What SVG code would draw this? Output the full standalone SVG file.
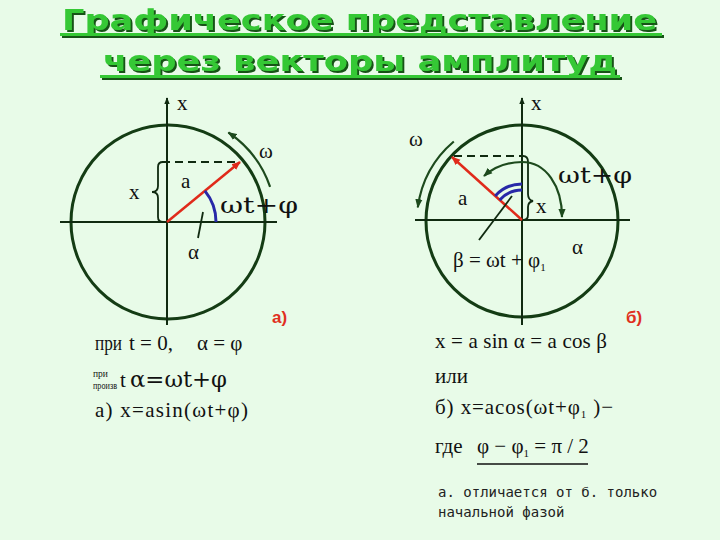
<svg xmlns="http://www.w3.org/2000/svg" width="720" height="540" viewBox="0 0 720 540">
<style>
.title{font-family:"DejaVu Sans",sans-serif;font-weight:bold;font-size:29px;fill:#36c836}
.m{font-family:"Liberation Serif",serif;font-size:21px;fill:#111}
.g{font-family:"DejaVu Serif","Liberation Serif",serif;font-size:22px;fill:#111}
.s{font-family:"Liberation Serif",serif;font-size:11px;fill:#111}
.ss{font-family:"Liberation Serif",serif;font-size:9.5px;fill:#111}
.mono{font-family:"DejaVu Sans Mono",monospace;font-size:14px;fill:#222}
.lbl{font-family:"Liberation Sans",sans-serif;font-weight:bold;font-size:17px;fill:#e0301e}
.circ{fill:none;stroke:#143c14;stroke-width:3}
.axis{stroke:#102a10;stroke-width:2}
.dash{stroke:#102a10;stroke-width:2;stroke-dasharray:8,5}
.thin{fill:none;stroke:#102a10;stroke-width:1.8}
.vec{stroke:#e02a1a;stroke-width:2.5}
.garc{fill:none;stroke:#1d4a1d;stroke-width:2.2}
.blue{fill:none;stroke:#2828a8;stroke-width:3}
</style>
<defs>
<marker id="ax" viewBox="0 0 10 10" refX="9" refY="5" markerWidth="7" markerHeight="7" orient="auto" markerUnits="userSpaceOnUse"><path d="M0,1 L10,5 L0,9 z" fill="#102a10"/></marker>
<marker id="ra" viewBox="0 0 10 10" refX="9" refY="5" markerWidth="9" markerHeight="9" orient="auto" markerUnits="userSpaceOnUse"><path d="M0,1 L10,5 L0,9 z" fill="#e02a1a"/></marker>
<marker id="ga" viewBox="0 0 10 10" refX="9" refY="5" markerWidth="9" markerHeight="9" orient="auto" markerUnits="userSpaceOnUse"><path d="M0,1 L10,5 L0,9 z" fill="#1d4a1d"/></marker>
<marker id="gs" viewBox="0 0 10 10" refX="1" refY="5" markerWidth="9" markerHeight="9" orient="auto" markerUnits="userSpaceOnUse"><path d="M10,1 L0,5 L10,9 z" fill="#1d4a1d"/></marker>
<filter id="sh" x="-5%" y="-20%" width="110%" height="160%"><feDropShadow dx="2" dy="2" stdDeviation="0.4" flood-color="#145214" flood-opacity="1"/></filter>
</defs>
<rect width="720" height="540" fill="#e8fbe8"/>

<g id="title" filter="url(#sh)">
<text class="title" x="62" y="30" textLength="595" lengthAdjust="spacingAndGlyphs">Графическое представление</text>
<rect x="60" y="33" width="602" height="3" fill="#36c836"/>
<text class="title" x="103" y="71" textLength="514" lengthAdjust="spacingAndGlyphs">через векторы амплитуд</text>
<rect x="100" y="75" width="520" height="3" fill="#36c836"/>
</g>

<g id="diagram-a">
<circle class="circ" cx="168" cy="222" r="97"/>
<line class="axis" x1="60" y1="222" x2="277" y2="222"/>
<line class="axis" x1="167" y1="325" x2="167" y2="98" marker-end="url(#ax)"/>
<text class="m" x="177" y="110">x</text>
<line class="dash" x1="162" y1="162" x2="238" y2="162"/>
<path class="thin" d="M163,162 Q158,162 158,167 L158,186 Q158,192 152,192 Q158,192 158,198 L158,217 Q158,222 163,222"/>
<text class="m" x="129" y="199">x</text>
<line class="vec" x1="167" y1="222" x2="240" y2="162" marker-end="url(#ra)"/>
<text class="m" x="181" y="188">a</text>
<path class="blue" d="M204.9,190.9 A49,49 0 0 1 216,222"/>
<line class="thin" x1="198" y1="238" x2="203" y2="212"/>
<text class="m" x="188" y="259">α</text>
<text class="g" x="220" y="213" textLength="78" lengthAdjust="spacingAndGlyphs">ωt+φ</text>
<path class="garc" d="M270.1,186.8 A108,108 0 0 0 228.4,132.5" marker-end="url(#ga)"/>
<text class="m" x="259" y="158">ω</text>
<text class="lbl" x="272" y="323">а)</text>
</g>

<g id="diagram-b">
<circle class="circ" cx="522" cy="221" r="96"/>
<line class="axis" x1="415" y1="220" x2="630" y2="220"/>
<line class="axis" x1="522" y1="325" x2="522" y2="98" marker-end="url(#ax)"/>
<text class="m" x="531" y="110">x</text>
<line class="dash" x1="454" y1="156" x2="522" y2="156"/>
<path class="thin" d="M523,156 Q528,156 528,162 L528,194 Q528,200 533,201 Q528,202 528,207 L528,215 Q528,220 523,220"/>
<text class="m" x="536" y="213">x</text>
<line class="vec" x1="522" y1="220" x2="452" y2="157" marker-end="url(#ra)"/>
<text class="m" x="458" y="205">a</text>
<path class="blue" d="M522,184 A36,36 0 0 0 495.2,195.9"/>
<path class="blue" d="M522,190 A30,30 0 0 0 499.7,199.9"/>
<line class="thin" x1="479" y1="240" x2="512" y2="196"/>
<path class="garc" d="M562,217 C562,186 546,162 522,162 C506,162 493,168 484,176" marker-start="url(#gs)" marker-end="url(#ga)"/>
<text class="g" x="558" y="183" textLength="74" lengthAdjust="spacingAndGlyphs">ωt+φ</text>
<path class="garc" d="M453.8,141.5 A105,105 0 0 0 417.8,207.3" marker-end="url(#ga)"/>
<text class="m" x="409" y="146">ω</text>
<text class="m" x="572" y="254">α</text>
<text class="m" x="453" y="267">β = ωt + φ<tspan class="s" dy="4">1</tspan></text>
<text class="lbl" x="626" y="323">б)</text>
</g>

<g id="formulas-a">
<text class="m" x="95" y="350" textLength="27" lengthAdjust="spacingAndGlyphs">при</text>
<text class="m" x="129" y="350">t = 0,</text>
<text class="m" x="197" y="350">α = φ</text>
<text class="ss" x="93" y="377">при</text>
<text class="ss" x="93" y="389" textLength="24" lengthAdjust="spacingAndGlyphs">произв</text>
<text class="m" x="120" y="387">t</text>
<text class="g" x="130" y="387" font-size="20" textLength="97" lengthAdjust="spacingAndGlyphs">α=ωt+φ</text>
<text class="m" x="95" y="417" textLength="153" lengthAdjust="spacing">а) x=asin(ωt+φ)</text>
</g>

<g id="formulas-b">
<text class="m" x="435" y="348" textLength="172" lengthAdjust="spacing">x = a sin α = a cos β</text>
<text class="m" x="435" y="383">или</text>
<text class="m" x="435" y="414" font-size="22" letter-spacing="0.9">б) x=acos(ωt+φ<tspan class="s" dy="4">1</tspan><tspan dy="-4"> )−</tspan></text>
<text class="m" x="435" y="453">где</text>
<text class="m" x="477" y="453">φ − φ<tspan class="s" dy="4">1</tspan><tspan dy="-4"> = π / 2</tspan></text>
<line x1="477" y1="464" x2="588" y2="464" stroke="#111" stroke-width="1.5"/>
<text class="mono" x="438" y="497">а. отличается от б. только</text>
<text class="mono" x="438" y="517">начальной фазой</text>
</g>
</svg>
